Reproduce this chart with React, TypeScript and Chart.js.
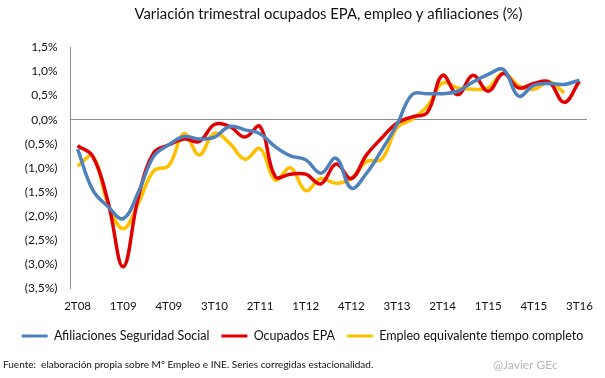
import React, { useEffect, useRef } from 'react';
import { Chart, registerables } from 'chart.js';

Chart.register(...registerables);

const quarters = [
  '2T08', '3T08', '4T08', '1T09', '2T09', '3T09', '4T09', '1T10', '2T10', '3T10',
  '4T10', '1T11', '2T11', '3T11', '4T11', '1T12', '2T12', '3T12', '4T12', '1T13',
  '2T13', '3T13', '4T13', '1T14', '2T14', '3T14', '4T14', '1T15', '2T15', '3T15',
  '4T15', '1T16', '2T16', '3T16',
];

const afiliaciones = [
  -0.61, -1.46, -1.8, -2.05, -1.5, -0.76, -0.52, -0.35, -0.4, -0.36,
  -0.14, -0.21, -0.29, -0.56, -0.75, -0.83, -1.11, -0.8, -1.42, -1.11,
  -0.63, -0.1, 0.52, 0.54, 0.54, 0.59, 0.78, 0.94, 1.04, 0.49,
  0.71, 0.75, 0.73, 0.82,
];

const ocupadosEPA = [
  -0.54, -0.76, -1.7, -3.05, -1.6, -0.69, -0.52, -0.4, -0.45, -0.1,
  -0.14, -0.36, -0.14, -1.18, -1.13, -1.13, -1.33, -0.92, -1.22, -0.73,
  -0.38, -0.07, 0.06, 0.15, 0.92, 0.52, 0.92, 0.59, 0.96, 0.66,
  0.75, 0.78, 0.36, 0.8,
];

const empleoETC = [
  -0.96, -0.76, -1.75, -2.26, -1.73, -1.06, -0.95, -0.29, -0.73, -0.28,
  -0.49, -0.82, -0.6, -1.25, -1.0, -1.47, -1.22, -1.32, -1.22, -0.87,
  -0.82, -0.17, 0.01, 0.28, 0.76, 0.66, 0.63, 0.66, 0.97, 0.71,
  0.63, 0.78, 0.56, null,
];

const seriesNames = ['Afiliaciones Seguridad Social', 'Ocupados EPA', 'Empleo equivalente tiempo completo'];
const seriesColors = ['#4F81BD', '#E00000', '#FFC000'];

const titleText = 'Variación trimestral ocupados EPA, empleo y afiliaciones (%)';
const sourceText = 'Fuente:  elaboración propia sobre Mº Empleo e INE. Series corregidas estacionalidad.';
const creditText = '@Javier GEc';

const FONT = 'Lato, "Open Sans", sans-serif';

function fmt(v: number): string {
  const s = Math.abs(v).toFixed(1).replace('.', ',') + '%';
  return v < 0 ? '(' + s + ')' : s;
}

const footerPlugin = {
  id: 'footerText',
  afterDraw(chart: any) {
    const ctx = chart.ctx;
    ctx.save();
    ctx.textBaseline = 'middle';
    ctx.textAlign = 'left';
    ctx.font = '10px ' + FONT;
    ctx.fillStyle = '#111';
    ctx.fillText(sourceText, 3, 365);
    ctx.font = '12px ' + FONT;
    ctx.fillStyle = '#B4B4B4';
    ctx.fillText(creditText, 493, 365);
    ctx.restore();
  },
};

export default function App() {
  const ref = useRef<HTMLCanvasElement>(null);
  useEffect(() => {
    if (!ref.current) return;
    const data = [afiliaciones, ocupadosEPA, empleoETC];
    const chart = new Chart(ref.current, {
      type: 'line',
      data: {
        labels: quarters,
        datasets: data.map((d, i) => ({
          label: seriesNames[i],
          data: d,
          borderColor: seriesColors[i],
          backgroundColor: seriesColors[i],
          borderWidth: 3.5,
          pointRadius: 0,
          tension: 0.4,
          fill: false,
          spanGaps: false,
          yAxisID: 'y',
        })),
      },
      options: {
        animation: false,
        responsive: false,
        maintainAspectRatio: false,
        layout: { padding: { left: 0, right: 0, top: 0, bottom: 25.75 } },
        plugins: {
          title: {
            display: true,
            fullSize: false,
            text: titleText,
            color: '#111',
            font: { family: FONT, size: 14.8, weight: 'normal', lineHeight: 1.2 },
            padding: { top: 5.6, bottom: 24 },
          },
          legend: {
            display: true,
            position: 'bottom',
            labels: {
              color: '#111',
              font: { family: FONT, size: 12.5 },
              boxWidth: 26,
              boxHeight: 3,
              padding: 12,
              generateLabels: (ch: any) =>
                Chart.defaults.plugins.legend.labels
                  .generateLabels(ch)
                  .map((l: any) => ({ ...l, lineWidth: 0 })),
            },
          },
          tooltip: { enabled: false },
        },
        scales: {
          x: {
            offset: true,
            grid: { display: false },
            border: { display: false },
            afterFit: (s: any) => { s.height = 29.25; },
            ticks: {
              autoSkip: false,
              maxRotation: 0,
              color: '#111',
              font: { family: FONT, size: 11.5 },
              padding: 3,
              callback: (_v: any, idx: number) => (idx % 3 === 0 ? quarters[idx] : ''),
            },
          },
          y: {
            min: -3.5,
            max: 1.5,
            afterFit: (s: any) => { s.width = 70; },
            grid: {
              drawTicks: false,
              color: (c: any) => (c.tick && c.tick.value === 0 ? '#8C8C8C' : 'rgba(0,0,0,0)'),
              lineWidth: 1,
            },
            border: { display: true, color: '#8C8C8C' },
            ticks: {
              stepSize: 0.5,
              color: '#111',
              font: { family: FONT, size: 12 },
              padding: 12.5,
              callback: (v: any) => fmt(Number(v)),
            },
          },
          yRight: {
            position: 'right',
            display: true,
            afterFit: (s: any) => { s.width = 18; },
            grid: { display: false },
            border: { display: false },
            ticks: { display: false },
          },
        },
      },
      plugins: [footerPlugin],
    });
    return () => chart.destroy();
  }, []);
  return (
    <div style={{ position: 'fixed', left: 0, top: 0, width: 605, height: 378, background: '#fff' }}>
      <canvas ref={ref} width={605} height={378} style={{ width: 605, height: 378 }} />
    </div>
  );
}
